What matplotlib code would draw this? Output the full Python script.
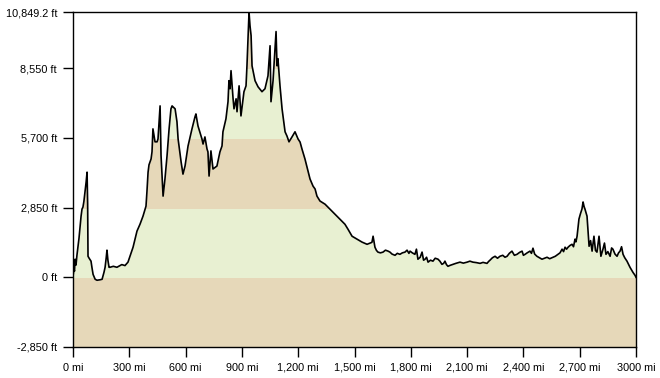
import numpy as np
import matplotlib
matplotlib.use("Agg")
from matplotlib import pyplot as plt
from matplotlib.patches import Rectangle

# elevation profile (miles, feet)
miles = [0, 3, 5, 8, 11, 16, 21, 27, 32, 38, 43, 48, 53, 58, 64, 70, 75, 78, 80, 86,
         96, 101, 107, 118, 128, 145, 155, 165, 171, 177, 181, 186, 192, 197, 215, 234,
         260, 277, 293, 320, 341, 357, 373, 389, 394, 400, 405, 416, 421, 426, 437, 448,
         453, 464, 469, 474, 480, 490, 501, 512, 522, 528, 533, 544, 554, 560, 576, 586,
         597, 613, 634, 650, 655, 666, 687, 693, 703, 714, 719, 725, 735, 746, 767, 783,
         794, 799, 815, 826, 831, 837, 842, 853, 858, 869, 874, 885, 895, 906, 911, 922,
         927, 938, 943, 949, 954, 970, 986, 1007, 1023, 1039, 1050, 1055, 1066, 1071, 1082,
         1087, 1092, 1103, 1114, 1119, 1130, 1140, 1151, 1167, 1183, 1199, 1210, 1220, 1236,
         1247, 1263, 1279, 1290, 1300, 1316, 1343, 1369, 1396, 1423, 1449, 1465, 1487, 1513,
         1540, 1567, 1593, 1599, 1609, 1617, 1625, 1638, 1652, 1665, 1679, 1689, 1700, 1716,
         1728, 1742, 1755, 1769, 1780, 1790, 1796, 1808, 1822, 1830, 1838, 1850, 1860, 1868,
         1876, 1884, 1892, 1905, 1918, 1930, 1945, 1955, 1966, 1975, 1982, 1990, 1998, 2010,
         2025, 2040, 2062, 2080, 2100, 2115, 2131, 2150, 2169, 2185, 2206, 2215, 2222, 2235,
         2249, 2262, 2275, 2290, 2302, 2313, 2325, 2339, 2352, 2366, 2380, 2393, 2400, 2409,
         2420, 2435, 2443, 2451, 2460, 2472, 2485, 2499, 2512, 2526, 2540, 2558, 2570, 2584,
         2595, 2606, 2614, 2622, 2630, 2638, 2648, 2659, 2667, 2675, 2680, 2686, 2696, 2704,
         2712, 2718, 2723, 2728, 2739, 2750, 2758, 2766, 2776, 2784, 2792, 2803, 2813, 2824,
         2832, 2840, 2850, 2862, 2870, 2877, 2888, 2899, 2907, 2915, 2923, 2931, 2940, 2952,
         2968, 2984, 2995, 3000]
elev = [40, 200, 330, 250, 740, 500, 900, 1270, 1600, 2100, 2500, 2790, 2870, 3100, 3490,
        3900, 4300, 3000, 860, 780, 660, 400, 120, -80, -120, -100, -80, 200, 410, 800,
        1110, 700, 410, 410, 450, 410, 520, 480, 620, 1230, 1890, 2170, 2500, 2910, 3500,
        4300, 4600, 4840, 5130, 6070, 5540, 5540, 5660, 7010, 5000, 4220, 3320, 4020, 4960,
        6070, 6890, 7010, 6970, 6890, 6360, 5660, 4720, 4220, 4550, 5370, 6070, 6560, 6680,
        6190, 5660, 5450, 5740, 5250, 5130, 4140, 5170, 4430, 4550, 5130, 5370, 5950, 6480,
        7180, 8040, 7710, 8450, 7300, 6890, 7300, 6770, 7830, 6600, 7300, 7590, 7830, 8650,
        10849.2, 10300, 9880, 8650, 8040, 7790, 7590, 7710, 8240, 9470, 7180, 8040, 8650,
        10050, 8650, 8940, 7830, 6890, 6600, 5950, 5780, 5540, 5740, 5950, 5660, 5530, 5250,
        4840, 4510, 4020, 3730, 3610, 3320, 3120, 2990, 2790, 2580, 2380, 2170, 1970, 1680,
        1560, 1440, 1350, 1430, 1680, 1230, 1100, 1030, 1000, 1030, 1110, 1070, 1030, 950,
        900, 980, 940, 1000, 1030, 1110, 980, 1070, 1000, 940, 1150, 740, 820, 1030, 700,
        740, 820, 620, 700, 660, 780, 740, 660, 530, 570, 660, 520, 450, 490, 530, 570, 620,
        580, 620, 660, 620, 600, 570, 610, 570, 650, 700, 800, 860, 780, 860, 900, 820, 860,
        980, 1070, 900, 940, 1020, 1070, 900, 940, 1000, 1070, 980, 1190, 950, 860, 800, 740,
        780, 820, 760, 820, 860, 940, 1000, 1150, 1050, 1230, 1150, 1230, 1300, 1350, 1250,
        1560, 1450, 1680, 2380, 2600, 2790, 3080, 2900, 2790, 2500, 1270, 1500, 1070, 1680,
        1100, 1030, 1680, 860, 1150, 1400, 940, 1050, 860, 1200, 1150, 950, 860, 1000, 1070,
        1250, 940, 800, 660, 410, 200, 80, 0]

band_edges = [-2850, 0, 2850, 5700, 8550, 11400]
band_colors = ["#e6d8b9", "#e8f0d2", "#e6d8b9", "#e8f0d2", "#e6d8b9"]

yticks = [-2850, 0, 2850, 5700, 8550, 10849.2]
ytick_labels = ["-2,850 ft", "0 ft", "2,850 ft", "5,700 ft", "8,550 ft", "10,849.2 ft"]
xticks = [0, 300, 600, 900, 1200, 1500, 1800, 2100, 2400, 2700, 3000]
xtick_labels = ["0 mi", "300 mi", "600 mi", "900 mi", "1,200 mi", "1,500 mi", "1,800 mi",
                "2,100 mi", "2,400 mi", "2,700 mi", "3000 mi"]

plt.rcParams['font.family'] = ['Liberation Sans', 'DejaVu Sans']

fig = plt.figure(figsize=(6.6, 3.78), dpi=100)
ax = fig.add_axes([73/660, 1 - 347/378, 563/660, 335/378])

x = np.array(miles)
y = np.array(elev)

# banded fill under the profile
for i in range(len(band_colors)):
    lo, hi = band_edges[i], band_edges[i + 1]
    poly = ax.fill_between(x, band_edges[0], y, color=band_colors[i], linewidth=0)
    clip = Rectangle((0, lo), 3000, hi - lo, transform=ax.transData)
    poly.set_clip_path(clip)

ax.plot(x, y, color="black", linewidth=1.2)

ax.set_xlim(0, 3000)
ax.set_ylim(-2850, 10849.2)
ax.set_xticks(xticks)
ax.set_xticklabels(xtick_labels)
ax.set_yticks(yticks)
ax.set_yticklabels(ytick_labels)
ax.tick_params(direction="out", length=7.5, width=1, labelsize=7.8, pad=4, colors="black")
for s in ax.spines.values():
    s.set_linewidth(1)
    s.set_color("black")

fig.savefig("out.png", dpi=100)
